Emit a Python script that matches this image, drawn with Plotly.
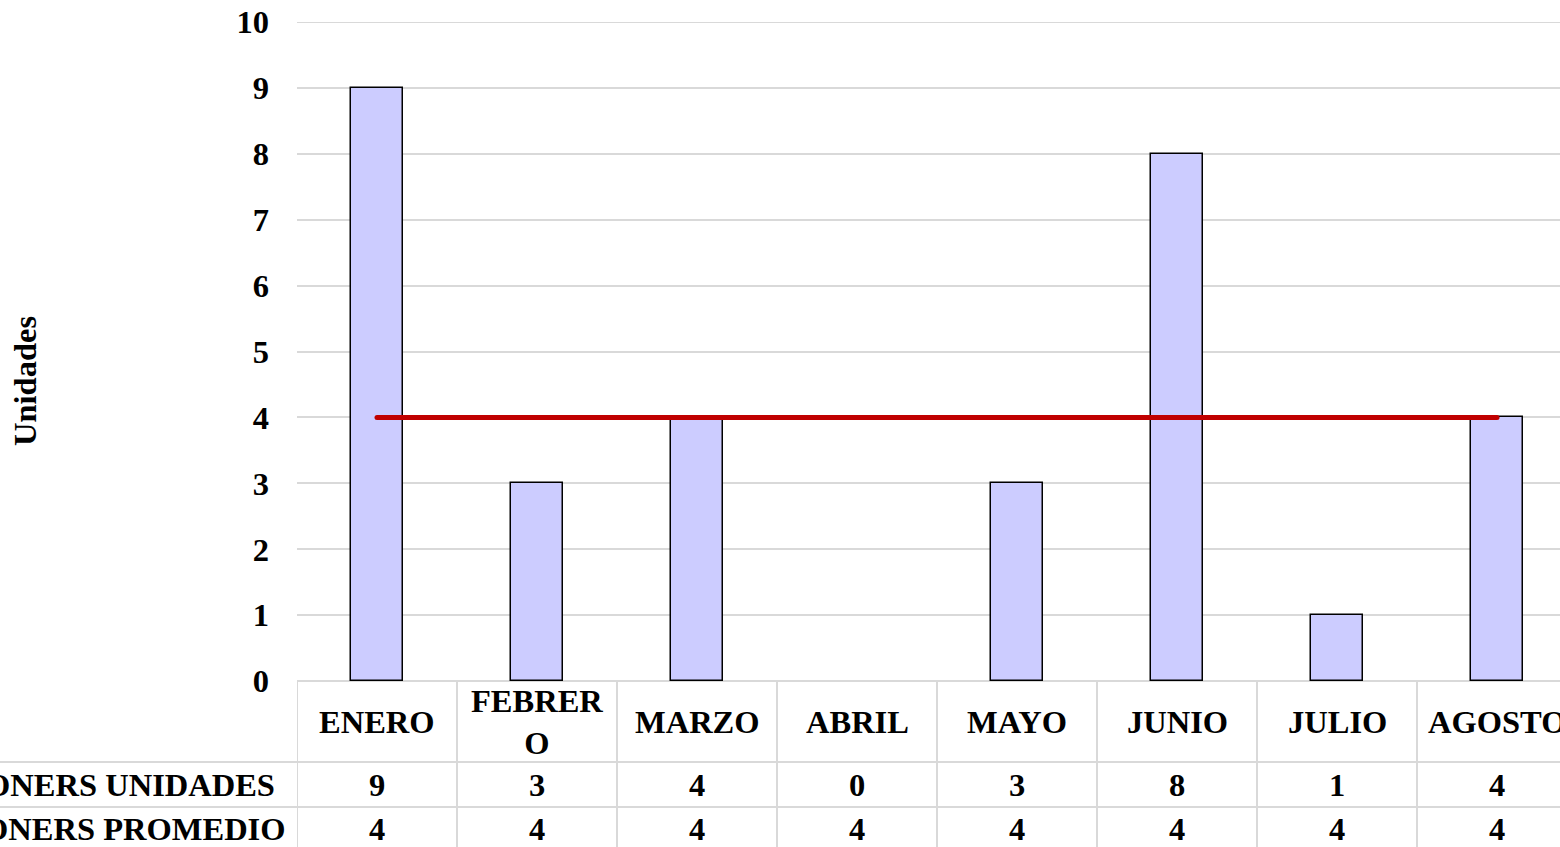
import plotly.graph_objects as go

months = ["ENERO", "FEBRERO", "MARZO", "ABRIL", "MAYO", "JUNIO", "JULIO", "AGOSTO"]
header_labels = ["ENERO", "FEBRER<br>O", "MARZO", "ABRIL", "MAYO", "JUNIO", "JULIO", "AGOSTO"]
unidades = [9, 3, 4, 0, 3, 8, 1, 4]
promedio = [4, 4, 4, 4, 4, 4, 4, 4]
row_names = ["TONERS UNIDADES", "TONERS PROMEDIO"]
y_ticks = list(range(0, 11))

W, H = 1560, 847
PL, PT, PB = 297, 22, 681          # plot area in pixels
ML, MR, MT, MB = PL, 0, PT, H - PB
PW = W - ML - MR
PH = H - MT - MB
FONT = "Liberation Serif, Times New Roman, serif"
GRID = "#d9d9d9"
FS = 32.5

def py(ypix):
    return (PB - ypix) / PH

def px(xpix):
    return (xpix - PL) / PW

xidx = list(range(len(months)))
x_end = -0.5 + PW / 160.0

fig = go.Figure()
fig.add_trace(go.Bar(
    x=xidx, y=unidades, width=0.32,
    marker=dict(color="#CCCCFF",
                line=dict(color="#000000", width=[1.5 if v > 0 else 0 for v in unidades])),
    name=row_names[0],
))
fig.add_trace(go.Scatter(
    x=xidx, y=promedio, mode="lines",
    line=dict(color="#C00000", width=5),
    name=row_names[1],
))

shapes = []
shapes.append(dict(type="line", xref="paper", yref="y", x0=0, x1=1, y0=y_ticks[-1], y1=y_ticks[-1],
                   line=dict(color=GRID, width=2), layer="below"))
shapes.append(dict(type="line", xref="paper", yref="paper", x0=0, x1=1, y0=py(681), y1=py(681),
                   line=dict(color=GRID, width=2), layer="below"))
for yl in (762, 807):
    shapes.append(dict(type="line", xref="paper", yref="paper", x0=px(0), x1=1, y0=py(yl), y1=py(yl),
                       line=dict(color=GRID, width=2)))
for k in range(len(months) + 1):
    shapes.append(dict(type="line", xref="x", yref="paper", x0=k - 0.5, x1=k - 0.5, y0=py(681), y1=py(H + 5),
                       line=dict(color=GRID, width=2)))

tfont = dict(family=FONT, size=FS, color="#000000", weight="bold")
annotations = []
for i, lab in enumerate(header_labels):
    annotations.append(dict(x=i, y=py(722), xref="x", yref="paper", text=lab, showarrow=False,
                            font=tfont, xanchor="center", yanchor="middle"))
    annotations.append(dict(x=i, y=py(785), xref="x", yref="paper", text=str(unidades[i]), showarrow=False,
                            font=tfont, xanchor="center", yanchor="middle"))
    annotations.append(dict(x=i, y=py(829), xref="x", yref="paper", text=str(promedio[i]), showarrow=False,
                            font=tfont, xanchor="center", yanchor="middle"))
annotations.append(dict(x=px(277), y=py(785), xref="paper", yref="paper", text=row_names[0], showarrow=False,
                        font=tfont, xanchor="right", yanchor="middle"))
annotations.append(dict(x=px(288), y=py(829), xref="paper", yref="paper", text=row_names[1], showarrow=False,
                        font=tfont, xanchor="right", yanchor="middle"))
annotations.append(dict(x=px(25), y=py(381), xref="paper", yref="paper", text="Unidades", showarrow=False,
                        textangle=-90, font=dict(family=FONT, size=FS, color="#000000", weight="bold"),
                        xanchor="center", yanchor="middle"))

fig.update_layout(
    width=W, height=H,
    margin=dict(l=ML, r=MR, t=MT, b=MB),
    paper_bgcolor="white", plot_bgcolor="white",
    showlegend=False,
    bargap=0,
    shapes=shapes,
    annotations=annotations,
    xaxis=dict(range=[-0.5, x_end], showticklabels=False, showgrid=False, zeroline=False,
               showline=False, ticks=""),
    yaxis=dict(range=[0, 10], tickvals=y_ticks, showgrid=True, gridcolor=GRID, gridwidth=2,
               zeroline=False, showline=False, ticks="", ticklabelstandoff=27,
               tickfont=dict(family=FONT, size=FS, color="#000000", weight="bold")),
)

fig.write_html(
    "out.html",
    config={"displayModeBar": False},
    post_script=(
        "document.body.style.margin='0';document.body.style.overflow='hidden';"
        "document.querySelectorAll('.scatterlayer path.js-line').forEach(function(p){"
        "p.style.strokeLinecap='round';});"
    ),
)
